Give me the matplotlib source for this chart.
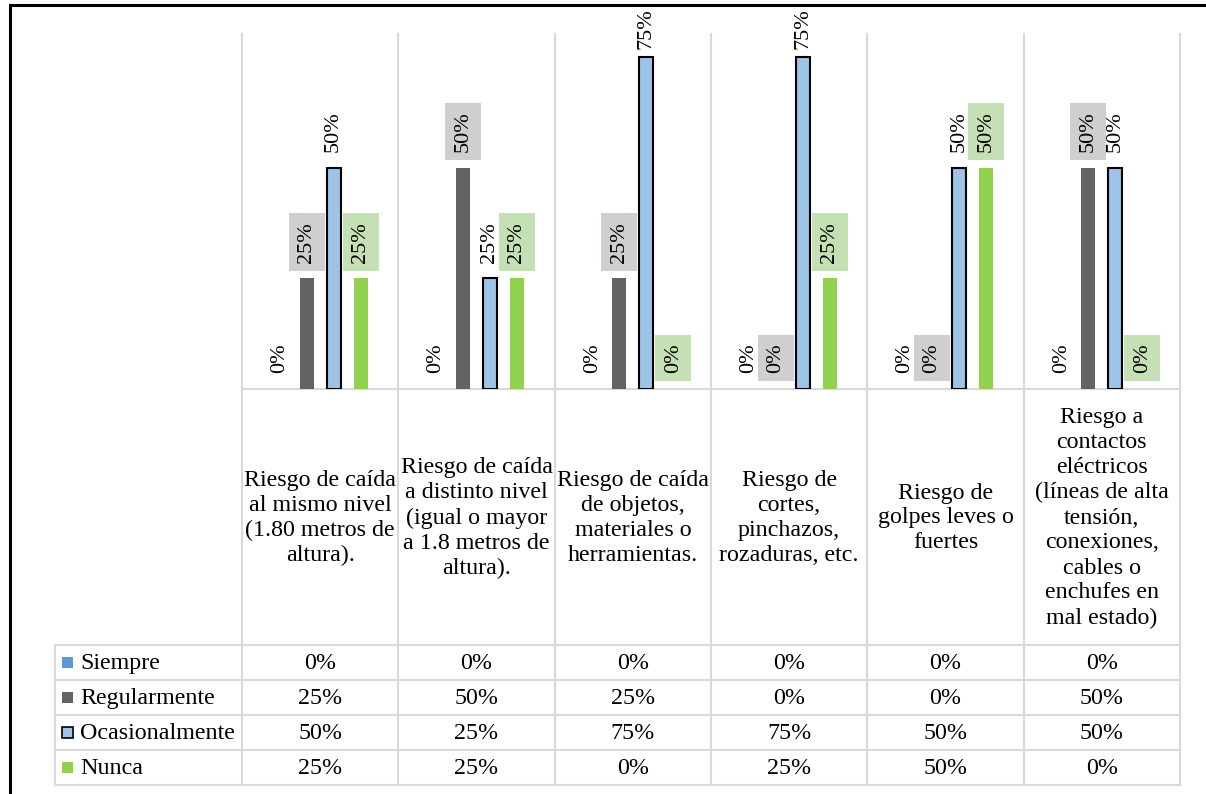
import matplotlib.pyplot as plt
import numpy as np

plt.rcParams["font.family"] = ["Liberation Serif", "DejaVu Serif"]

categories = [
    "Riesgo de caída\nal mismo nivel\n(1.80 metros de\naltura).",
    "Riesgo de caída\na distinto nivel\n(igual o mayor\na 1.8 metros de\naltura).",
    "Riesgo de caída\nde objetos,\nmateriales o\nherramientas.",
    "Riesgo de\ncortes,\npinchazos,\nrozaduras, etc.",
    "Riesgo de\ngolpes leves o\nfuertes",
    "Riesgo a\ncontactos\neléctricos\n(líneas de alta\ntensión,\nconexiones,\ncables o\nenchufes en\nmal estado)",
]
series_names = ["Siempre", "Regularmente", "Ocasionalmente", "Nunca"]
siempre = [0.00, 0.00, 0.00, 0.00, 0.00, 0.00]
regularmente = [0.25, 0.50, 0.25, 0.00, 0.00, 0.50]
ocasionalmente = [0.50, 0.25, 0.75, 0.75, 0.50, 0.50]
nunca = [0.25, 0.25, 0.00, 0.25, 0.50, 0.00]
series_values = [siempre, regularmente, ocasionalmente, nunca]

fill_colors = ["#5b9bd5", "#636363", "#9dc3e6", "#92d050"]
edge_colors = ["#5b9bd5", "#636363", "black", "#92d050"]
edge_widths = [0, 0, 1.5, 0]
label_boxes = [None, "#d0cecf", None, "#c5e0b4"]
grid_color = "#d9d9d9"

W, H = 1206, 794
# layout in pixels
plot_left, plot_right = 242, 1180
plot_top, plot_bottom = 34, 389
legend_left = 55
row_edges = [645, 680, 715, 750, 785]
n = len(categories)
col_w = (plot_right - plot_left) / n
col_edges = [plot_left + i * col_w for i in range(n + 1)]
text_size = 17.3


def main():
    fig = plt.figure(figsize=(W / 100, H / 100), dpi=100)

    # overlay axes in pixel coordinates for frame and data table
    tab = fig.add_axes([0, 0, 1, 1])
    tab.set_xlim(0, W)
    tab.set_ylim(H, 0)
    tab.axis("off")

    # outer frame (only top and left visible)
    tab.plot([10, W], [5, 5], color="black", lw=2.2)
    tab.plot([10, 10], [5, H], color="black", lw=2.2)

    # vertical grid / table lines
    for x in col_edges:
        tab.plot([x, x], [plot_top, row_edges[-1]], color=grid_color, lw=1.5, zorder=1)
    tab.plot([legend_left, legend_left], [row_edges[0], row_edges[-1]],
             color=grid_color, lw=1.5, zorder=1)
    tab.plot([plot_left, plot_right], [plot_bottom, plot_bottom],
             color=grid_color, lw=1.5, zorder=1)
    for y in row_edges:
        tab.plot([legend_left, plot_right], [y, y], color=grid_color, lw=1.5, zorder=1)

    # category labels
    for i, cat in enumerate(categories):
        cx = (col_edges[i] + col_edges[i + 1]) / 2
        tab.text(cx, 518, cat, ha="center", va="center", fontsize=text_size,
                 linespacing=1.25)

    # table rows
    for j, name in enumerate(series_names):
        cy = (row_edges[j] + row_edges[j + 1]) / 2
        tab.add_patch(plt.Rectangle((62, cy - 5.5), 11, 11, facecolor=fill_colors[j],
                                    edgecolor=edge_colors[j] if j == 2 else fill_colors[j],
                                    lw=1.2 if j == 2 else 0))
        tab.text(80, cy + 1, name, ha="left", va="center", fontsize=text_size)
        for i, v in enumerate(series_values[j]):
            cx = (col_edges[i] + col_edges[i + 1]) / 2
            tab.text(cx, cy + 1, f"{v:.0%}", ha="center", va="center", fontsize=text_size)

    # bar axes
    ax = fig.add_axes([plot_left / W, 1 - plot_bottom / H,
                       (plot_right - plot_left) / W, (plot_bottom - plot_top) / H])
    ax.set_facecolor("none")
    for s in ax.spines.values():
        s.set_visible(False)
    ax.set_xticks([])
    ax.set_yticks([])
    ax.set_xlim(-0.5, n - 0.5)
    ax.set_ylim(0, 0.803)

    slot = 27 / col_w
    bar_w = 14 / col_w
    x = np.arange(n)
    labels = []
    for j, vals in enumerate(series_values):
        xs = x + (j - 1.5) * slot
        ax.bar(xs, vals, width=bar_w, color=fill_colors[j],
               edgecolor=edge_colors[j], linewidth=edge_widths[j], zorder=3)
        for xi, v in zip(xs, vals):
            box = None
            if label_boxes[j]:
                box = dict(boxstyle="square,pad=0.38", facecolor=label_boxes[j],
                           edgecolor="none")
            ann = ax.annotate(f"{v:.0%}", (xi, v), xytext=(0, 11.5),
                              textcoords="offset points", rotation=90, ha="center",
                              va="bottom", fontsize=16, bbox=box,
                              annotation_clip=False, zorder=4)
            labels.append(ann)

    # keep labels inside the chart frame, like Excel does
    fig.canvas.draw()
    renderer = fig.canvas.get_renderer()
    limit = H - 8
    for ann in labels:
        bb = ann.get_window_extent(renderer)
        if bb.y1 > limit:
            shift_pts = (bb.y1 - limit) * 72 / fig.dpi
            ann.xyann = (0, 11.5 - shift_pts)

    fig.savefig("out.png", dpi=100)


if __name__ == "__main__":
    main()
